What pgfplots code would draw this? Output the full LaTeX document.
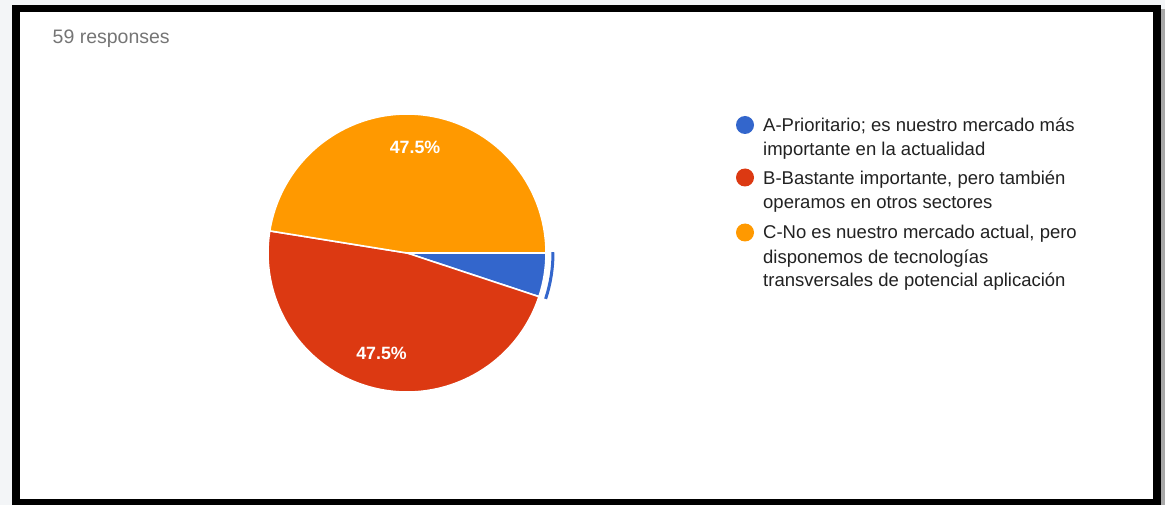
\documentclass[border=0pt]{standalone}
\usepackage{pgfplots}
\pgfplotsset{compat=1.18}
\usepackage{pgfplotstable}
\usepackage{fontspec}
\setmainfont{Liberation Sans}
\definecolor{pieA}{HTML}{3366CC}
\definecolor{pieB}{HTML}{DC3912}
\definecolor{pieC}{HTML}{FF9900}
\definecolor{legtext}{HTML}{222222}
\definecolor{subtext}{HTML}{757575}
\definecolor{bgout}{HTML}{F3F5F7}
\definecolor{shadow}{HTML}{A8A8A8}

\pgfplotstableread{
label count
A 3
B 28
C 28
}\piedata
\pgfplotstablegetelem{0}{count}\of\piedata \let\va\pgfplotsretval
\pgfplotstablegetelem{1}{count}\of\piedata \let\vb\pgfplotsretval
\pgfplotstablegetelem{2}{count}\of\piedata \let\vc\pgfplotsretval
\pgfmathsetmacro\total{\va+\vb+\vc}
\pgfmathsetmacro\aA{-360*\va/\total}
\pgfmathsetmacro\aB{\aA-360*\vb/\total}
\pgfmathsetmacro\aC{\aB-360*\vc/\total}
\pgfmathsetmacro\pB{100*\vb/\total}
\pgfmathsetmacro\pC{100*\vc/\total}

\begin{document}
\begin{tikzpicture}
\begin{axis}[
  width=1165pt, height=505pt, scale only axis,
  xmin=0, xmax=1165, ymin=0, ymax=505, y dir=reverse,
  hide axis, clip=false, at={(0,0)}, anchor=south west,
]
% background and frame
\fill[bgout] (axis cs:0,0) rectangle (axis cs:1165,505);
\fill[shadow] (axis cs:1160,9) rectangle (axis cs:1165,505);
\fill[black] (axis cs:12,5) rectangle (axis cs:1161,505);
\fill[white] (axis cs:19.5,12.5) rectangle (axis cs:1153,499);

\node[anchor=base west, text=subtext, font=\fontsize{19.5}{24}\selectfont, inner sep=0pt]
  at (axis cs:52.5,43.3) {59 responses};

% pie slices
\filldraw[fill=pieA, draw=white, line width=1.6pt, line join=round]
  (axis cs:407,253) -- ++(0:139pt) arc[start angle=0, end angle=\aA, radius=139pt] -- cycle;
\filldraw[fill=pieB, draw=white, line width=1.6pt, line join=round]
  (axis cs:407,253) -- ++(\aA:139pt) arc[start angle=\aA, end angle=\aB, radius=139pt] -- cycle;
\filldraw[fill=pieC, draw=white, line width=1.6pt, line join=round]
  (axis cs:407,253) -- ++(\aB:139pt) arc[start angle=\aB, end angle=\aC, radius=139pt] -- cycle;
% highlight arc of slice A
\draw[pieA, line width=3pt] (axis cs:407,253) ++(0.3:146pt) arc[start angle=0.3, end angle=\aA, radius=146pt];

% slice labels
\node[text=white, font=\bfseries\fontsize{17.8}{20}\selectfont, inner sep=0pt]
  at (axis cs:415,147) {\pgfmathprintnumber[fixed, precision=1, fixed zerofill, assume math mode=true]{\pC}\%};
\node[text=white, font=\bfseries\fontsize{17.8}{20}\selectfont, inner sep=0pt]
  at (axis cs:381.5,353.5) {\pgfmathprintnumber[fixed, precision=1, fixed zerofill, assume math mode=true]{\pB}\%};

% legend
\fill[pieA] (axis cs:745,125) circle[radius=9pt];
\fill[pieB] (axis cs:745,177.5) circle[radius=9pt];
\fill[pieC] (axis cs:745,232.5) circle[radius=9pt];
\begin{scope}[every node/.style={anchor=base west, text=legtext, inner sep=0pt, font=\fontsize{18.5}{24}\selectfont}]
\node at (axis cs:763,131.5) {A-Prioritario; es nuestro mercado más};
\node at (axis cs:763,155.5) {importante en la actualidad};
\node at (axis cs:763,184.5) {B-Bastante importante, pero también};
\node at (axis cs:763,208.5) {operamos en otros sectores};
\node at (axis cs:763,239) {C-No es nuestro mercado actual, pero};
\node at (axis cs:763,263) {disponemos de tecnologías};
\node at (axis cs:763,287) {transversales de potencial aplicación};
\end{scope}
\end{axis}
\end{tikzpicture}
\end{document}
